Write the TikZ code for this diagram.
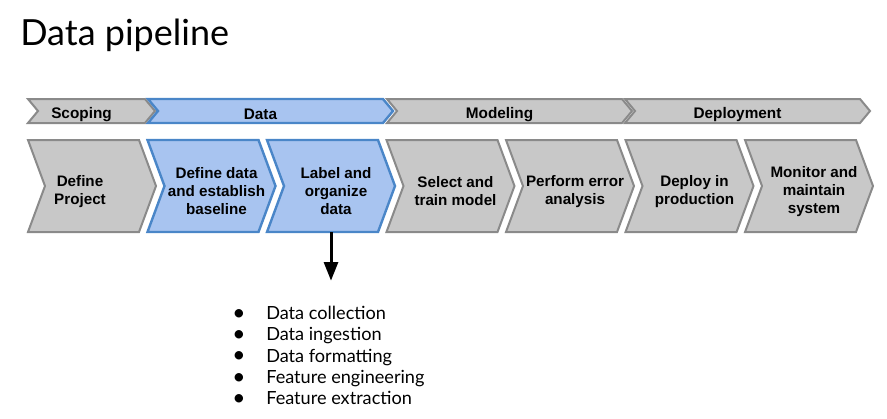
\documentclass[tikz,border=0pt]{standalone}
\usepackage{fontspec}
\setmainfont{Lato}
\setsansfont{Liberation Sans}
\usetikzlibrary{arrows.meta,calc}
\newcommand{\chev}[9][5]{%
  % #1 text shift, #2 name, #3 left, #4 top, #5 w, #6 h, #7 tip depth, #8 style, #9 label
  \begin{scope}[shift={(#3,#4)}]
    \draw[#8] (0,0) -- ({#5-#7},0) -- (#5,{#6/2}) -- ({#5-#7},#6) -- (0,#6) -- (#7,{#6/2}) -- cycle;
    \node[chevtext] (#2) at ({#5/2+#1},{#6/2+#6/40+3}) {#9};
    \coordinate (#2-south) at ({#5/2},#6);
  \end{scope}%
}
\newcommand{\bul}{\makebox[25.5pt][l]{\fontsize{17}{16}\selectfont\raisebox{-0.5pt}{\textbullet}}}

\begin{document}
\begin{tikzpicture}[x=0.75pt,y=-0.75pt,
  greychev/.style={fill=greyfill, draw=greyline, line width=1.5pt, line join=miter},
  bluechev/.style={fill=bluefill, draw=blueline, line width=1.8pt, line join=miter},
  chevtext/.style={font=\sffamily\bfseries\fontsize{11.4}{13.5}\selectfont, align=center, inner sep=0pt},
  phasetext/.style={font=\sffamily\bfseries\fontsize{11.5}{13.5}\selectfont, align=center, inner sep=0pt},
  arr/.style={-{Triangle[length=14pt,width=10.5pt]}, line width=2.25pt, shorten >=19pt}]

\definecolor{greyfill}{RGB}{200,200,200}
\definecolor{greyline}{RGB}{138,138,138}
\definecolor{bluefill}{RGB}{168,196,240}
\definecolor{blueline}{RGB}{74,134,200}

\useasboundingbox (0,0) rectangle (887,418);

% ===== TITLE =====
\node[anchor=base west, inner sep=0pt, font=\fontsize{27}{30}\selectfont] (title) at (20,45) {Data pipeline};

% ===== PHASES =====
\begin{scope}[chevtext/.style=phasetext]
\chev[-10]{scoping}{28}{99}{127}{24}{10}{greychev}{Scoping}
\chev[-10]{data}{148}{99}{245}{24}{10}{bluechev}{Data}
\chev[-10]{modeling}{387}{99}{245}{24}{10}{greychev}{Modeling}
\chev[-10]{deployment}{625}{99}{245}{24}{10}{greychev}{Deployment}
\end{scope}

% ===== STEPS =====
\chev[-12]{defproj}{28}{140}{128}{92}{17}{greychev}{Define\\Project}
\chev{defdata}{147.5}{140}{128}{92}{17}{bluechev}{Define data\\and establish\\baseline}
\chev{labeldata}{267}{140}{128}{92}{17}{bluechev}{Label and\\organize\\data}
\chev{select}{386.5}{140}{128}{92}{17}{greychev}{Select and\\train model}
\chev{perform}{506}{140}{128}{92}{17}{greychev}{Perform error\\analysis}
\chev{deploy}{625.5}{140}{128}{92}{17}{greychev}{Deploy in\\production}
\chev{monitor}{745}{140}{128}{92}{17}{greychev}{Monitor and\\maintain\\system}

% ===== DATA TASKS =====
\node[anchor=north west, inner sep=0pt, align=left, font=\fontsize{13.6}{16}\selectfont] (tasks) at (232,306)
  {\bul Data collection\\
   \bul Data ingestion\\
   \bul Data formatting\\
   \bul Feature engineering\\
   \bul Feature extraction};

\draw[arr] (labeldata-south) -- (labeldata-south |- tasks.north);

\end{tikzpicture}
\end{document}
